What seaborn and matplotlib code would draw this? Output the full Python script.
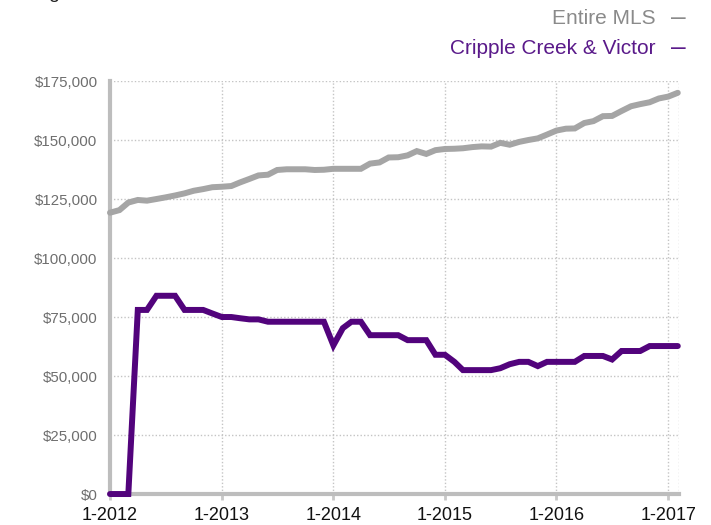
import numpy as np
import pandas as pd
import matplotlib
matplotlib.use("Agg")
import matplotlib.pyplot as plt
from matplotlib.ticker import FuncFormatter
import seaborn as sns

start_month = "2012-01-01"
n_months = 62
series_names = ["Entire MLS", "Cripple Creek & Victor"]
entire_mls = [
    119200, 120300, 123500, 124600, 124300, 125000, 125700, 126500, 127400, 128500,
    129200, 130000, 130200, 130500, 132000, 133500, 135000, 135300, 137300, 137600,
    137600, 137600, 137300, 137400, 137800, 137800, 137800, 137800, 140000, 140500,
    142600, 142700, 143500, 145300, 144100, 145700, 146200, 146300, 146500, 147000,
    147300, 147200, 148800, 148000, 149200, 150000, 150700, 152300, 154000, 154800,
    154900, 157200, 158000, 160100, 160200, 162300, 164300, 165200, 166000, 167600,
    168400, 170000,
]
cripple_creek = [
    0, 0, 0, 78000, 78000, 84000, 84000, 84000, 78000, 78000,
    78000, 76500, 75000, 75000, 74500, 74000, 74000, 73000, 73000, 73000,
    73000, 73000, 73000, 73000, 63000, 70300, 73000, 73000, 67300, 67300,
    67300, 67300, 65200, 65200, 65200, 59000, 59000, 56000, 52500, 52500,
    52500, 52500, 53300, 55000, 56000, 56000, 54200, 56000, 56000, 56000,
    56000, 58500, 58500, 58500, 57000, 60600, 60600, 60600, 62700, 62700,
    62700, 62700,
]
y_ticks = [0, 25000, 50000, 75000, 100000, 125000, 150000, 175000]
x_tick_years = [2012, 2013, 2014, 2015, 2016, 2017]

colors = {"Entire MLS": "#a5a5a5", "Cripple Creek & Victor": "#52037c"}
legend_colors = {"Entire MLS": "#8a8a8a", "Cripple Creek & Victor": "#5a1a8a"}

dates = pd.date_range(start_month, periods=n_months, freq="MS")
df = pd.DataFrame({
    "date": np.concatenate([dates, dates]),
    "value": entire_mls + cripple_creek,
    "series": [series_names[0]] * n_months + [series_names[1]] * n_months,
})

sns.set_style("white")
plt.rcParams["font.family"] = ["Liberation Sans", "DejaVu Sans"]

fig = plt.figure(figsize=(7.11, 5.25), dpi=100)
ax = fig.add_axes([0.1547, 0.059, 0.8003, 0.7867])

sns.lineplot(data=df, x="date", y="value", hue="series", palette=colors,
             linewidth=4.3, ax=ax, legend=False, zorder=5,
             solid_joinstyle="miter", clip_on=False)

x_end = pd.Timestamp("2017-02-05")
ax.set_ylim(0, 175000)
ax.set_xlim(pd.Timestamp("2012-01-01"), x_end)
ax.set_yticks(y_ticks)
ax.yaxis.set_major_formatter(FuncFormatter(lambda v, p: "$" + format(int(v), ",")))
ax.set_xticks([pd.Timestamp(f"{y}-01-01") for y in x_tick_years])
ax.set_xticklabels([f"1-{y}" for y in x_tick_years])
ax.set_xlabel("")
ax.set_ylabel("")

grid_kw = dict(color="#c4c4c4", linestyle=(0, (1, 1.5)), linewidth=1.0, zorder=1)
ax.grid(True, axis="both", **grid_kw)
ax.axvline(x_end, **grid_kw)

for s in ["top", "right"]:
    ax.spines[s].set_visible(False)
for s in ["left", "bottom"]:
    ax.spines[s].set_color("#bdbdbd")
    ax.spines[s].set_linewidth(3)
    ax.spines[s].set_zorder(2)

ax.tick_params(axis="y", length=0, labelsize=10.8, labelcolor="#6e6e6e", pad=9)
ax.tick_params(axis="x", length=4, width=2, color="#c8c8c8", labelsize=13,
               labelcolor="#111111", pad=5, direction="out")
ax.xaxis.set_ticks_position("bottom")

W, H = 711, 525
for name, ypx in zip(series_names, [18, 48]):
    fig.text(656 / W, 1 - ypx / H, name, ha="right", va="center",
             fontsize=15, color=legend_colors[name])
    fig.text(678 / W, 1 - ypx / H, "\u2013", ha="center", va="center",
             fontsize=19, color=legend_colors[name])

fig.text(0.0, 1.012, "Rolling 12-Month Calculation", ha="left", va="center",
         fontsize=14, color="#222222")

fig.savefig("out.png", dpi=100)
